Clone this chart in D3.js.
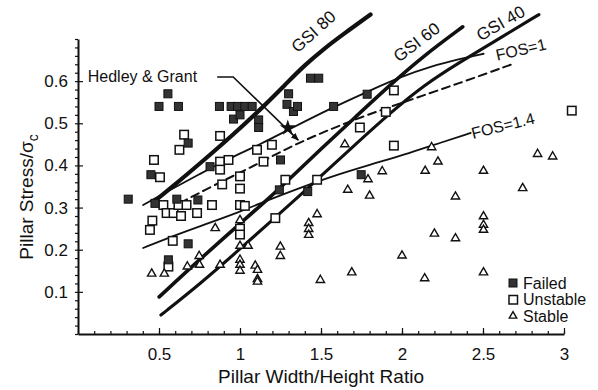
<!DOCTYPE html>
<html>
<head>
<meta charset="utf-8">
<script src="https://cdn.jsdelivr.net/npm/d3@7"></script>
<style>
  body { margin: 0; background: #fff; }
  svg { display: block; font-family: "Liberation Sans", Arial, Helvetica, sans-serif; }
</style>
</head>
<body>
<svg id="chart" width="598" height="390"></svg>
<script>
// pillar cases: [width/height ratio, pillar stress / sigma_c]
const failed = [
  [0.31, 0.32], [0.45, 0.378], [0.475, 0.31], [0.5, 0.54], [0.555, 0.57],
  [0.558, 0.176], [0.61, 0.32], [0.62, 0.54], [0.68, 0.453], [0.68, 0.214],
  [0.74, 0.318], [0.815, 0.397], [0.873, 0.54], [0.945, 0.54], [0.985, 0.54],
  [1.03, 0.54], [1.075, 0.54], [0.96, 0.51], [1.0, 0.52], [1.115, 0.508],
  [1.115, 0.49], [1.243, 0.342], [1.25, 0.413], [1.3, 0.57], [1.29, 0.545],
  [1.33, 0.528], [1.355, 0.54], [1.418, 0.338], [1.435, 0.607], [1.486, 0.607],
  [1.578, 0.54], [1.748, 0.378], [1.785, 0.569]
];
const unstable = [
  [0.444, 0.247], [0.459, 0.269], [0.469, 0.413], [0.506, 0.372], [0.527, 0.306],
  [0.547, 0.287], [0.558, 0.16], [0.585, 0.221], [0.59, 0.287], [0.62, 0.306],
  [0.626, 0.437], [0.636, 0.28], [0.655, 0.473], [0.67, 0.306], [0.735, 0.287],
  [0.827, 0.306], [0.877, 0.47], [0.877, 0.409], [0.877, 0.39], [0.89, 0.355],
  [0.929, 0.413], [1.0, 0.374], [1.0, 0.345], [1.0, 0.306], [1.03, 0.304],
  [1.0, 0.25], [1.0, 0.236], [1.105, 0.437], [1.145, 0.409], [1.197, 0.449],
  [1.218, 0.275], [1.28, 0.366], [1.476, 0.366], [1.74, 0.49], [1.9, 0.527],
  [1.95, 0.578], [1.95, 0.447], [3.048, 0.53]
];
const stable = [
  [0.455, 0.143], [0.533, 0.143], [0.675, 0.16], [0.748, 0.185], [0.75, 0.164],
  [0.847, 0.251], [0.877, 0.164], [1.0, 0.27], [1.0, 0.209], [1.0, 0.176],
  [1.0, 0.164], [1.0, 0.15], [1.05, 0.209], [1.094, 0.162], [1.108, 0.152],
  [1.108, 0.13], [1.108, 0.124], [1.249, 0.207], [1.249, 0.185], [1.424, 0.263],
  [1.424, 0.249], [1.424, 0.235], [1.476, 0.284], [1.496, 0.128], [1.647, 0.45],
  [1.665, 0.342], [1.69, 0.146], [1.79, 0.367], [1.8, 0.328], [1.878, 0.386],
  [2.0, 0.186], [2.14, 0.132], [2.143, 0.387], [2.183, 0.443], [2.2, 0.238],
  [2.222, 0.409], [2.33, 0.326], [2.33, 0.227], [2.503, 0.279], [2.503, 0.259],
  [2.503, 0.247], [2.503, 0.146], [2.503, 0.387], [2.745, 0.346], [2.837, 0.427],
  [2.93, 0.421]
];
const hedleyGrant = [1.295, 0.489];

// strength curves
const gsi80 = [
  [0.475, 0.316], [0.6, 0.355], [0.754, 0.405], [0.95, 0.47], [1.168, 0.548],
  [1.3, 0.6], [1.4, 0.638], [1.515, 0.676], [1.65, 0.715], [1.806, 0.758]
];
const gsi60 = [
  [0.501, 0.088], [0.754, 0.178], [1.0, 0.262], [1.187, 0.325], [1.311, 0.37],
  [1.497, 0.438], [1.713, 0.515], [1.929, 0.592], [2.133, 0.66], [2.375, 0.729]
];
const gsi40 = [
  [0.512, 0.045], [0.754, 0.119], [1.001, 0.202], [1.187, 0.266], [1.373, 0.33],
  [1.497, 0.374], [1.713, 0.45], [1.929, 0.525], [2.133, 0.59], [2.362, 0.646],
  [2.548, 0.689], [2.845, 0.758]
];
const fos1 = [
  [0.402, 0.306], [0.568, 0.342], [0.754, 0.38], [0.939, 0.418], [1.125, 0.45],
  [1.311, 0.487], [1.558, 0.535], [1.781, 0.574], [1.991, 0.61], [2.177, 0.635],
  [2.362, 0.653], [2.504, 0.665]
];
const fos1Trend = [
  [0.63, 0.311], [0.835, 0.352], [0.984, 0.38], [1.157, 0.413], [1.311, 0.445],
  [1.621, 0.497], [1.991, 0.548], [2.362, 0.596], [2.671, 0.639]
];
const fos14 = [
  [0.402, 0.204], [0.568, 0.23], [0.754, 0.256], [1.001, 0.29], [1.187, 0.32],
  [1.373, 0.347], [1.558, 0.373], [1.806, 0.402], [2.053, 0.43], [2.238, 0.454],
  [2.424, 0.477]
];

const curveNames = ["GSI 80", "GSI 60", "GSI 40", "FOS=1", "FOS=1.4"];
const legendLabels = ["Failed", "Unstable", "Stable"];
const xTicks = [0.5, 1, 1.5, 2, 2.5, 3];
const yTicks = [0.1, 0.2, 0.3, 0.4, 0.5, 0.6];

const margin = { top: 39, right: 34, bottom: 56, left: 78 };
const width = 598 - margin.left - margin.right;
const height = 390 - margin.top - margin.bottom;

const svg = d3.select("#chart");
const g = svg.append("g").attr("transform", `translate(${margin.left},${margin.top})`);

const x = d3.scaleLinear().domain([0, 3]).range([0, width]);
const y = d3.scaleLinear().domain([0, 0.7]).range([height, 0]);

svg.append("defs")
  .append("marker")
  .attr("id", "arrow")
  .attr("viewBox", "0 0 10 10")
  .attr("refX", 9)
  .attr("refY", 5)
  .attr("markerWidth", 5)
  .attr("markerHeight", 5)
  .attr("orient", "auto")
  .append("path")
  .attr("d", "M0,1 L10,5 L0,9 Z")
  .attr("fill", "#111");

// axes: minor ticks first, then major ticks with labels
const xMinor = d3.range(0, 31).map((i) => i / 10);
const yMinor = d3.range(0, 36).map((i) => i / 50);

g.append("g")
  .attr("transform", `translate(0,${height})`)
  .call(d3.axisBottom(x).tickValues(xMinor).tickSize(-3).tickFormat(""))
  .call((a) => a.select(".domain").remove());

g.append("g")
  .call(d3.axisLeft(y).tickValues(yMinor).tickSize(3).tickFormat(""))
  .call((a) => a.select(".domain").remove());

const xAxis = g.append("g")
  .attr("transform", `translate(0,${height})`)
  .call(d3.axisBottom(x).tickValues(xTicks).tickSize(-6).tickSizeOuter(0)
    .tickPadding(14).tickFormat(d3.format("")));

const yAxis = g.append("g")
  .call(d3.axisLeft(y).tickValues(yTicks).tickSize(-5).tickSizeOuter(0)
    .tickPadding(10).tickFormat(d3.format(".1f")));

[xAxis, yAxis].forEach((a) => {
  a.attr("font-family", null);
  a.selectAll("text").attr("font-size", 17).attr("fill", "#111");
  a.select(".domain").attr("stroke", "#111").attr("stroke-width", 2);
});
g.selectAll(".tick line").attr("stroke", "#111").attr("stroke-width", 1.2);

g.append("text")
  .attr("x", width / 2)
  .attr("y", height + 49)
  .attr("text-anchor", "middle")
  .attr("font-size", 19)
  .attr("fill", "#111")
  .text("Pillar Width/Height Ratio");

const yTitle = g.append("text")
  .attr("transform", `translate(-45,${158}) rotate(-90)`)
  .attr("text-anchor", "middle")
  .attr("font-size", 19)
  .attr("fill", "#111");
yTitle.append("tspan").text("Pillar Stress/σ");
yTitle.append("tspan").attr("font-size", 14).attr("dy", 5).text("c");

// curves
const line = d3.line()
  .curve(d3.curveBasis)
  .x((d) => x(d[0]))
  .y((d) => y(d[1]));

const curves = [
  { data: gsi80, width: 4.2 },
  { data: gsi60, width: 3.6 },
  { data: gsi40, width: 3.1 },
  { data: fos1, width: 1.8 },
  { data: fos1Trend, width: 2, dash: "8,5" },
  { data: fos14, width: 1.8 }
];

g.selectAll(".curve")
  .data(curves)
  .join("path")
  .attr("class", "curve")
  .attr("d", (d) => line(d.data))
  .attr("fill", "none")
  .attr("stroke", "#111")
  .attr("stroke-width", (d) => d.width)
  .attr("stroke-dasharray", (d) => d.dash || null)
  .attr("stroke-linecap", "round");

// curve labels, placed in data units along each curve
const labelSpots = [
  { at: [1.455, 0.717], angle: -42, size: 17 },
  { at: [2.091, 0.692], angle: -37, size: 17 },
  { at: [2.61, 0.737], angle: -30, size: 17 },
  { at: [2.734, 0.675], angle: -13, size: 16 },
  { at: [2.623, 0.494], angle: -14, size: 16 }
];

g.selectAll(".curve-label")
  .data(curveNames)
  .join("text")
  .attr("class", "curve-label")
  .attr("transform", (d, i) =>
    `translate(${x(labelSpots[i].at[0])},${y(labelSpots[i].at[1])}) rotate(${labelSpots[i].angle})`)
  .attr("text-anchor", "middle")
  .attr("dominant-baseline", "central")
  .attr("font-size", (d, i) => labelSpots[i].size)
  .attr("fill", "#111")
  .text((d) => d);

// markers
const sq = (s) => (sel) => sel
  .attr("x", (d) => x(d[0]) - s / 2)
  .attr("y", (d) => y(d[1]) - s / 2)
  .attr("width", s)
  .attr("height", s);

g.append("g").selectAll("rect")
  .data(unstable)
  .join("rect")
  .call(sq(8.5))
  .attr("fill", "#fff")
  .attr("stroke", "#111")
  .attr("stroke-width", 1.5);

g.append("g").selectAll("rect")
  .data(failed)
  .join("rect")
  .call(sq(8))
  .attr("fill", "#333")
  .attr("stroke", "#111")
  .attr("stroke-width", 1);

const tri = d3.symbol(d3.symbolTriangle).size(30);
g.append("g").selectAll("path")
  .data(stable)
  .join("path")
  .attr("transform", (d) => `translate(${x(d[0])},${y(d[1])})`)
  .attr("d", tri)
  .attr("fill", "#fff")
  .attr("stroke", "#111")
  .attr("stroke-width", 1.4);

// Hedley & Grant annotation
g.append("path")
  .attr("d", d3.line()([[0.859, 0.61], [0.958, 0.61], [1.36, 0.46]].map((p) => [x(p[0]), y(p[1])])))
  .attr("fill", "none")
  .attr("stroke", "#111")
  .attr("stroke-width", 1.6)
  .attr("marker-end", "url(#arrow)");

g.append("path")
  .attr("transform", `translate(${x(hedleyGrant[0])},${y(hedleyGrant[1])})`)
  .attr("d", d3.symbol(d3.symbolStar).size(80))
  .attr("fill", "#111");

g.append("text")
  .attr("x", x(0.06))
  .attr("y", y(0.599))
  .attr("font-size", 16)
  .attr("fill", "#111")
  .text("Hedley & Grant");

// legend
const legend = g.append("g").attr("transform", "translate(435,244)");
const rows = legend.selectAll("g")
  .data(legendLabels)
  .join("g")
  .attr("transform", (d, i) => `translate(0,${i * 16.5})`);

rows.filter((d, i) => i === 0).append("rect")
  .attr("x", -4).attr("y", -4).attr("width", 8).attr("height", 8)
  .attr("fill", "#333").attr("stroke", "#111");
rows.filter((d, i) => i === 1).append("rect")
  .attr("x", -4).attr("y", -4).attr("width", 8.5).attr("height", 8.5)
  .attr("fill", "#fff").attr("stroke", "#111").attr("stroke-width", 1.5);
rows.filter((d, i) => i === 2).append("path")
  .attr("d", d3.symbol(d3.symbolTriangle).size(24))
  .attr("fill", "#fff").attr("stroke", "#111").attr("stroke-width", 1.4);

rows.append("text")
  .attr("x", 10)
  .attr("dy", "0.36em")
  .attr("font-size", 16)
  .attr("fill", "#111")
  .text((d) => d);
</script>
</body>
</html>
